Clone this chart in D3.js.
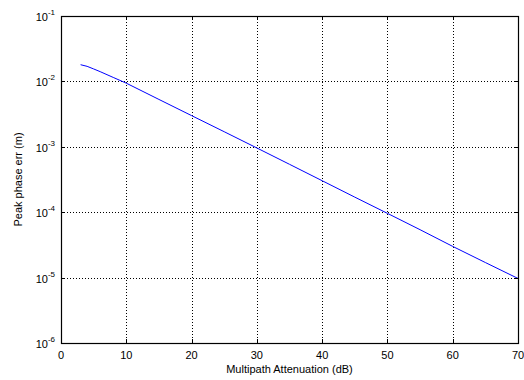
<!DOCTYPE html>
<html lang="en">
<head>
  <meta charset="UTF-8" />
  <title>Peak phase error</title>
  <script src="https://d3js.org/d3.v7.min.js"></script>
  <style>
    body { margin: 0; background: #fff; }
    svg { font-family: Arial, "Liberation Sans", Helvetica, sans-serif; }
  </style>
</head>
<body>
  <script>
    // data
    const attenuation = [3, 4, 5, 6, 8, 10, 15, 20, 25, 30, 35, 40, 45, 50, 55, 60, 65, 70];
    const peakErr = [0.0180, 0.0170, 0.0155, 0.0141, 0.0115, 0.0094, 0.0053, 0.0030, 0.0017,
      0.00096, 0.00054, 0.000303, 0.00017, 0.000096, 0.000054, 0.000030, 0.000017, 0.0000097];
    const xTicks = [0, 10, 20, 30, 40, 50, 60, 70];
    const yExponents = [-6, -5, -4, -3, -2, -1];

    const W = 524, H = 380;
    const margin = { top: 16, right: 6, bottom: 37, left: 61 };

    const svg = d3.select('body').append('svg')
      .attr('width', W)
      .attr('height', H);

    const x = d3.scaleLinear().domain([0, 70]).range([margin.left, W - margin.right]);
    const y = d3.scaleLog().domain([1e-6, 1e-1]).range([H - margin.bottom, margin.top]);

    // grid (dotted)
    const grid = svg.append('g').attr('stroke', '#000').attr('stroke-width', 1)
      .attr('stroke-dasharray', '1,2');
    grid.selectAll('.gx')
      .data(xTicks.slice(1, -1))
      .join('line')
      .attr('x1', d => Math.round(x(d)) + 0.5).attr('x2', d => Math.round(x(d)) + 0.5)
      .attr('y1', y.range()[1]).attr('y2', y.range()[0]);
    grid.selectAll('.gy')
      .data(yExponents.slice(1, -1))
      .join('line')
      .attr('y1', d => Math.round(y(Math.pow(10, d))) + 0.5).attr('y2', d => Math.round(y(Math.pow(10, d))) + 0.5)
      .attr('x1', x.range()[0]).attr('x2', x.range()[1]);

    // line
    const line = d3.line()
      .x((d, i) => x(attenuation[i]))
      .y(d => y(d));
    svg.append('path')
      .datum(peakErr)
      .attr('d', line)
      .attr('fill', 'none')
      .attr('stroke', '#0000ff')
      .attr('stroke-width', 1);

    // box
    svg.append('rect')
      .attr('x', margin.left + 0.5)
      .attr('y', margin.top + 0.5)
      .attr('width', x.range()[1] - x.range()[0])
      .attr('height', y.range()[0] - y.range()[1])
      .attr('fill', 'none')
      .attr('stroke', '#000')
      .attr('stroke-width', 1.2);

    // ticks (inward)
    const ticks = svg.append('g').attr('stroke', '#000');
    xTicks.forEach(t => {
      const px = Math.round(x(t)) + 0.5;
      ticks.append('line').attr('x1', px).attr('x2', px).attr('y1', y.range()[0]).attr('y2', y.range()[0] - 4);
      ticks.append('line').attr('x1', px).attr('x2', px).attr('y1', y.range()[1]).attr('y2', y.range()[1] + 4);
    });
    yExponents.forEach(e => {
      const py = Math.round(y(Math.pow(10, e))) + 0.5;
      ticks.append('line').attr('y1', py).attr('y2', py).attr('x1', x.range()[0]).attr('x2', x.range()[0] + 4);
      ticks.append('line').attr('y1', py).attr('y2', py).attr('x1', x.range()[1]).attr('x2', x.range()[1] - 4);
    });

    // x tick labels
    svg.append('g').selectAll('text')
      .data(xTicks)
      .join('text')
      .attr('x', d => x(d))
      .attr('y', H - margin.bottom + 16)
      .attr('text-anchor', 'middle')
      .attr('font-size', 11)
      .text(d => d);

    // y tick labels with superscript exponents
    const yl = svg.append('g').selectAll('text')
      .data(yExponents)
      .join('text')
      .attr('x', margin.left - 6)
      .attr('y', d => y(Math.pow(10, d)) + 5)
      .attr('text-anchor', 'end')
      .attr('font-size', 11);
    yl.append('tspan').text('10');
    yl.append('tspan').attr('dy', -6).attr('font-size', 8).text(d => d);

    // axis titles
    svg.append('text')
      .attr('x', (x.range()[0] + x.range()[1]) / 2)
      .attr('y', H - 7)
      .attr('text-anchor', 'middle')
      .attr('font-size', 11)
      .text('Multipath Attenuation (dB)');

    svg.append('text')
      .attr('transform', `translate(22,${(y.range()[0] + y.range()[1]) / 2}) rotate(-90)`)
      .attr('text-anchor', 'middle')
      .attr('font-size', 11)
      .text('Peak phase err (m)');
  </script>
</body>
</html>
